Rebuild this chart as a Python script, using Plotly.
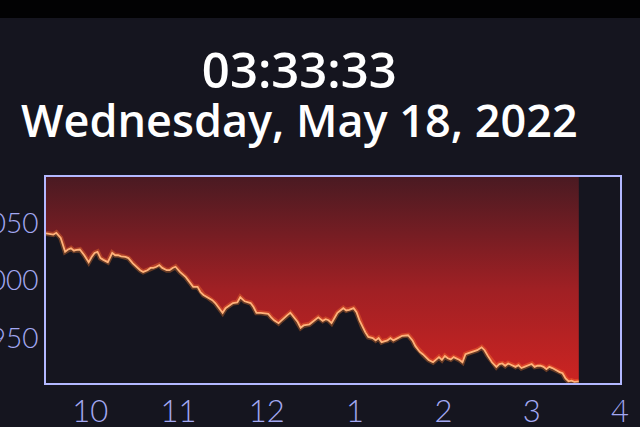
import plotly.graph_objects as go

# ---- data (S&P 500 intraday) ----
times = ["09:30","09:35","09:37","09:40","09:43","09:45","09:47","09:49","09:50","09:53",
         "09:56","09:59","10:01","10:03","10:05","10:07","10:09","10:12","10:15","10:17",
         "10:19","10:21","10:24","10:26","10:29","10:32","10:34","10:36","10:39","10:41",
         "10:43","10:45","10:47","10:49","10:52","10:54","10:56","10:58","11:01","11:05",
         "11:08","11:10","11:13","11:15","11:17","11:20","11:23","11:25","11:27","11:30",
         "11:32","11:35","11:37","11:40","11:42","11:45","11:47","11:49","11:51","11:53",
         "11:56","11:59","12:01","12:03","12:05","12:08","12:10","12:12","12:14","12:16",
         "12:19","12:21","12:23","12:25","12:27","12:29","12:31","12:34","12:35","12:38",
         "12:40","12:42","12:44","12:46","12:48","12:50","12:52","12:54","12:56","12:59",
         "13:01","13:03","13:05","13:07","13:09","13:12","13:14","13:16","13:18","13:20",
         "13:22","13:24","13:26","13:29","13:32","13:36","13:39","13:41","13:44","13:46",
         "13:48","13:50","13:53","13:55","13:57","13:59","14:01","14:03","14:05","14:07",
         "14:09","14:11","14:13","14:15","14:17","14:20","14:23","14:26","14:28","14:30",
         "14:33","14:36","14:38","14:40","14:42","14:44","14:47","14:49","14:51","14:53",
         "14:55","14:57","15:00","15:02","15:04","15:06","15:08","15:10","15:12","15:14",
         "15:17","15:19","15:21","15:23","15:25","15:27","15:29","15:32"]
values = [4041,4040,4041.5,4037,4025,4027,4028,4026,4026.5,4027,
          4022,4016,4020.5,4024,4025,4019.5,4018,4016,4024,4022,
          4022,4021,4020.5,4019.5,4015,4011,4009,4007.5,4009,4011,
          4011,4012,4013.5,4011,4009,4009,4011,4012,4007.5,4003,
          3998,3994.5,3994.5,3990,3987.5,3985.5,3983,3980.5,3977,3972,
          3976,3978.5,3980.5,3981,3985.5,3982,3981,3980.5,3977,3972,
          3972,3971,3971,3968,3965.5,3963,3965.5,3967.5,3970,3972,
          3967.5,3964,3959,3961,3961.5,3962,3964,3967.5,3968,3965,
          3966.5,3965.5,3963,3967.5,3972,3974,3976,3974,3974.5,3976,
          3972.5,3965.5,3959.5,3955,3951,3950,3948,3950,3946.5,3947.5,
          3948,3950,3948,3950,3952,3952.5,3948,3943,3938,3936,
          3933.5,3931,3929,3931.5,3933.5,3931,3934.5,3932.5,3931.5,3933.5,
          3932.5,3931,3929,3936,3937,3938,3939.5,3942,3939.5,3935,
          3929,3925,3927.5,3928,3926,3928,3926.5,3925,3926.5,3924,
          3925,3926,3927.5,3925,3926,3926,3925,3923,3925,3924,
          3921.5,3920.5,3919.5,3915,3912.5,3913,3912,3912.5]

hour_ticks = [10, 11, 12, 13, 14, 15, 16]
hour_labels = ["10", "11", "12", "1", "2", "3", "4"]
price_ticks = [3950, 4000, 4050]
price_labels = ["3,950", "4,000", "4,050"]
y_top = 4090
y_bottom = 3911

clock_text = "03:33:33"
date_text = "Wednesday, May 18, 2022"

hours = [int(t[:2]) + int(t[3:]) / 60 for t in times]

W, H = 640, 427
ML, MR, MT, MB = 46, 20, 177, 44
PW, PH = W - ML - MR, H - MT - MB

def px(x):
    return (x - ML) / PW

def py(y):
    return (H - MB - y) / PH

fig = go.Figure()

# top edge (fill reference)
fig.add_trace(go.Scatter(x=hours, y=[y_top] * len(hours), mode="lines",
                         line=dict(width=0, color="rgba(0,0,0,0)"),
                         hoverinfo="skip", showlegend=False))
# red area between top and price line
fig.add_trace(go.Scatter(x=hours, y=values, mode="lines", fill="tonexty",
                         fillgradient=dict(type="vertical",
                                           colorscale=[[0, "#cc2422"], [0.45, "#a02024"], [1, "#4a1a22"]]),
                         line=dict(width=0, color="rgba(0,0,0,0)"),
                         hoverinfo="skip", showlegend=False))
# glow
fig.add_trace(go.Scatter(x=hours, y=values, mode="lines",
                         line=dict(width=5, color="rgba(255,130,50,0.35)"),
                         hoverinfo="skip", showlegend=False))
# price line
fig.add_trace(go.Scatter(x=hours, y=values, mode="lines",
                         line=dict(width=1.8, color="#ffb27a"),
                         showlegend=False))

frame_color = "#b3b8ff"
tick_color = "#a3a8f2"

header = ("<span style='font-size:49px'>" + clock_text + "</span><br>"
          "<span style='font-size:45px'>" + date_text + "</span>")

fig.update_layout(
    width=W, height=H,
    margin=dict(l=ML, r=MR, t=MT, b=MB, autoexpand=False),
    paper_bgcolor="#15151f",
    plot_bgcolor="#15151f",
    xaxis=dict(range=[9.5, 16.0], tickvals=hour_ticks, ticktext=hour_labels,
               showgrid=False, zeroline=False, showline=True, linecolor=frame_color,
               linewidth=2, mirror=True, ticks="", ticklabelstandoff=0,
               tickfont=dict(family="Lato", size=31, color=tick_color, weight=300)),
    yaxis=dict(range=[y_bottom, y_top], tickvals=price_ticks, ticktext=price_labels,
               showgrid=False, zeroline=False, showline=True, linecolor=frame_color,
               linewidth=2, mirror=True, ticks="", automargin=False,
               tickfont=dict(family="Lato", size=28, color=tick_color, weight=300)),
    shapes=[dict(type="rect", xref="paper", yref="paper",
                 x0=px(-10), x1=px(W + 10), y0=py(18), y1=py(-10),
                 fillcolor="#020203", line=dict(width=0), layer="above")],
    annotations=[
        dict(text=header, xref="paper", yref="paper", x=px(299), y=py(93),
             showarrow=False, xanchor="center", yanchor="middle", align="center",
             font=dict(family="Open Sans", size=38, color="#ffffff", weight=600)),
    ],
)

fig.write_html("out.html", config={"displayModeBar": False},
               post_script="document.body.style.margin='0';")
